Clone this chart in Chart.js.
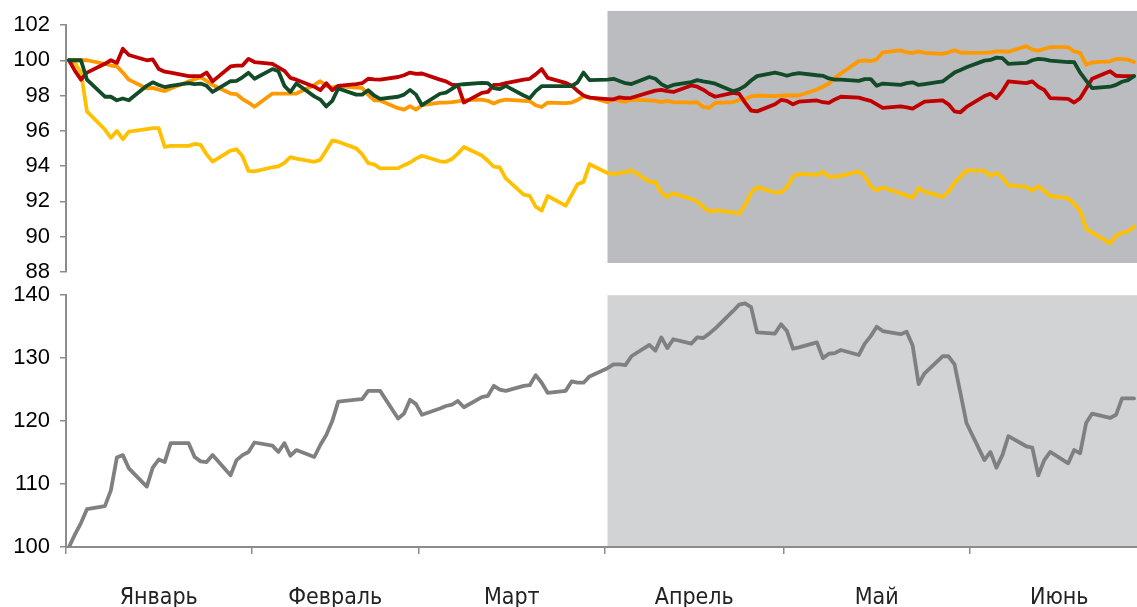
<!DOCTYPE html>
<html lang="ru">
<head>
<meta charset="utf-8">
<script src="https://cdn.jsdelivr.net/npm/chart.js@4.4.1/dist/chart.umd.min.js"></script>
<style>
  html, body { margin: 0; padding: 0; background: #fff; overflow: hidden; }
  #top { position: absolute; left: 0; top: 0; width: 1137px; height: 295px; }
  #bottom { position: absolute; left: 0; top: 272px; width: 1137px; height: 335px; }
</style>
</head>
<body>
<div id="top"><canvas id="topChart"></canvas></div>
<div id="bottom"><canvas id="bottomChart"></canvas></div>
<script>
// months on the x axis
const months = ['Январь', 'Февраль', 'Март', 'Апрель', 'Май', 'Июнь'];
const monthLengths = [31, 28, 31, 30, 31, 30];
const xMax = 179;          // axis ends on 29 June
const shadeFrom = '04-01'; // shaded period starts in April

// trading dates (first one is the 100 base)
const dates = [
  '01-01','01-02','01-03','01-04','01-07','01-08','01-09','01-10','01-11','01-14','01-15','01-16','01-17','01-18','01-21','01-22','01-23','01-24','01-25','01-28','01-29','01-30','01-31',
  '02-01','02-04','02-05','02-06','02-07','02-08','02-11','02-12','02-13','02-14','02-15','02-18','02-19','02-20','02-21','02-22','02-25','02-26','02-27','02-28',
  '03-01','03-04','03-05','03-06','03-07','03-08','03-11','03-12','03-13','03-14','03-15','03-18','03-19','03-20','03-21','03-22','03-25','03-26','03-27','03-28','03-29',
  '04-01','04-02','04-03','04-04','04-05','04-08','04-09','04-10','04-11','04-12','04-15','04-16','04-17','04-18','04-19','04-22','04-23','04-24','04-25','04-26','04-29','04-30',
  '05-01','05-02','05-03','05-06','05-07','05-08','05-09','05-10','05-13','05-14','05-15','05-16','05-17','05-20','05-21','05-22','05-23','05-24','05-27','05-28','05-29','05-30','05-31',
  '06-03','06-04','06-05','06-06','06-07','06-10','06-11','06-12','06-13','06-14','06-17','06-18','06-19','06-20','06-21','06-24','06-25','06-26','06-27','06-28'
];

// upper panel
const redSeries = [
  100, 99.4, 98.9, 99.3, 99.8, 100.0, 99.85, 100.65, 100.3, 100.0, 100.05, 99.5, 99.35, 99.3, 99.1, 99.1, 99.1, 99.3, 98.8, 99.65, 99.7, 99.7, 100.08,
  99.9, 99.8, 99.6, 99.4, 99.0, 98.9, 98.5, 98.3, 98.7, 98.3, 98.55, 98.65, 98.7, 98.95, 98.92, 98.9, 99.05, 99.15, 99.3, 99.23,
  99.25, 98.9, 98.8, 98.62, 98.57, 97.6, 98.15, 98.2, 98.6, 98.62, 98.7, 98.9, 98.95, 99.2, 99.5, 99.0, 98.72, 98.56, 98.26, 98.0, 97.88,
  97.8, 97.78, 97.9, 97.85, 97.87, 98.18, 98.28, 98.32, 98.25, 98.2, 98.57, 98.5, 98.33, 98.1, 97.93, 98.15, 98.1, 97.6, 97.15, 97.1, 97.5, 97.75,
  97.7, 97.5, 97.65, 97.72, 97.62, 97.58, 97.78, 97.93, 97.88, 97.78, 97.7, 97.5, 97.3, 97.39, 97.33, 97.26, 97.45, 97.65, 97.72, 97.5, 97.1, 97.05, 97.35,
  97.97, 98.1, 97.85, 98.25, 98.8, 98.7, 98.8, 98.5, 98.32, 97.85, 97.81, 97.6, 97.85, 98.4, 98.95, 99.38, 99.12, 99.1, 99.1, 99.1
];
const greenSeries = [
  100, 100, 100, 98.9, 97.93, 97.93, 97.73, 97.83, 97.73, 98.55, 98.75, 98.6, 98.48, 98.55, 98.7, 98.64, 98.68, 98.55, 98.2, 98.81, 98.83, 99.03, 99.29,
  98.95, 99.5, 99.38, 98.55, 98.2, 98.68, 97.95, 97.77, 97.38, 97.7, 98.4, 98.05, 98.05, 98.3, 98.0, 97.81, 97.93, 98.05, 98.32, 98.05,
  97.45, 98.1, 98.16, 98.38, 98.6, 98.64, 98.72, 98.7, 98.42, 98.36, 98.55, 98.0, 97.85, 98.25, 98.53, 98.53, 98.53, 98.53, 98.75, 99.3, 98.87,
  98.9, 98.95, 98.82, 98.7, 98.65, 99.05, 98.95, 98.65, 98.47, 98.6, 98.76, 98.87, 98.8, 98.75, 98.67, 98.24, 98.35, 98.55, 98.85, 99.1, 99.3, 99.22,
  99.12, 99.22, 99.27, 99.15, 99.12, 98.97, 98.9, 98.9, 98.83, 98.93, 98.93, 98.55, 98.68, 98.6, 98.7, 98.75, 98.6, 98.65, 98.8, 99.05, 99.3, 99.45, 99.6,
  99.98, 100.02, 100.15, 100.12, 99.8, 99.85, 100.0, 100.08, 100.05, 99.98, 99.9, 99.89, 99.3, 98.85, 98.42, 98.5, 98.6, 98.78, 98.87, 99.1
];
const orangeSeries = [
  100, 100, 100, 100, 99.8, 99.7, 99.65, 99.3, 98.9, 98.4, 98.43, 98.33, 98.25, 98.4, 98.8, 98.92, 99.04, 98.83, 98.6, 98.11, 98.08, 97.8, 97.6,
  97.36, 98.11, 98.11, 98.11, 98.11, 98.11, 98.6, 98.81, 98.55, 98.45, 98.53, 98.45, 98.43, 98.05, 97.73, 97.72, 97.28, 97.2, 97.4, 97.2,
  97.45, 97.6, 97.6, 97.62, 97.67, 97.74, 97.77, 97.7, 97.55, 97.7, 97.77, 97.7, 97.68, 97.45, 97.35, 97.6, 97.57, 97.6, 97.75, 97.95, 97.9,
  97.62, 97.8, 97.7, 97.65, 97.77, 97.73, 97.7, 97.63, 97.7, 97.62, 97.6, 97.62, 97.35, 97.3, 97.58, 97.63, 97.75, 97.8, 97.95, 98.0, 97.96, 98.0,
  98.0, 98.0, 98.0, 98.34, 98.5, 98.68, 99.0, 99.25, 99.95, 100.0, 99.95, 100.05, 100.45, 100.56, 100.45, 100.42, 100.5, 100.42, 100.36, 100.45, 100.57, 100.44, 100.42,
  100.42, 100.45, 100.5, 100.5, 100.48, 100.8, 100.6, 100.55, 100.65, 100.74, 100.74, 100.5, 100.42, 99.75, 99.88, 99.94, 100.07, 100.06, 100.04, 99.9
];
const yellowSeries = [
  100, 99.85, 99.3, 97.1, 96.07, 95.6, 95.99, 95.52, 95.95, 96.1, 96.15, 96.15, 95.08, 95.14, 95.14, 95.25, 95.2, 94.66, 94.25, 94.88, 94.95, 94.55, 93.72,
  93.7, 93.93, 93.98, 94.18, 94.5, 94.42, 94.24, 94.35, 94.9, 95.45, 95.38, 95.0, 94.66, 94.17, 94.09, 93.87, 93.88, 94.05, 94.2, 94.42,
  94.58, 94.27, 94.24, 94.4, 94.7, 95.08, 94.6, 94.3, 93.96, 93.92, 93.3, 92.38, 92.31, 91.7, 91.47, 92.3, 91.75, 92.35, 92.97, 93.1, 94.1,
  93.6, 93.55, 93.6, 93.65, 93.75, 93.13, 93.08, 92.5, 92.25, 92.45, 92.13, 92.0, 91.67, 91.43, 91.48, 91.37, 91.3, 91.8, 92.48, 92.8, 92.5, 92.5,
  92.8, 93.4, 93.55, 93.5, 93.68, 93.4, 93.4, 93.44, 93.7, 93.4, 92.85, 92.62, 92.78, 92.45, 92.32, 92.2, 92.75, 92.55, 92.25, 92.55, 93.05, 93.4, 93.75,
  93.73, 93.45, 93.6, 93.35, 92.9, 92.82, 92.6, 92.85, 92.6, 92.3, 92.18, 91.85, 91.45, 90.45, 90.22, 89.62, 90.05, 90.2, 90.3, 90.55
];

// lower panel
const greySeries = [
  100, 102.0, 103.8, 106.0, 106.5, 109.0, 114.2, 114.6, 112.5, 109.6, 112.6, 113.9, 113.5, 116.5, 116.5, 114.3, 113.6, 113.5, 114.6, 111.4, 113.8, 114.6, 115.1,
  116.6, 116.1, 115.1, 116.5, 114.5, 115.4, 114.3, 116.2, 117.8, 120.0, 123.1, 123.4, 123.5, 124.8, 124.8, 124.8, 120.4, 121.2, 123.4, 122.7,
  121.0, 122.0, 122.4, 122.6, 123.2, 122.2, 123.8, 124.0, 125.6, 125.0, 124.8, 125.6, 125.7, 127.3, 126.1, 124.5, 124.8, 126.3, 126.1, 126.1, 127.1,
  128.4, 129.0, 129.0, 128.9, 130.3, 132.1, 131.2, 133.3, 131.6, 133.0, 132.3, 133.3, 133.2, 133.9, 134.7, 137.5, 138.5, 138.7, 138.1, 134.1, 133.9, 135.4,
  134.3, 131.5, 131.7, 132.5, 130.0, 130.7, 130.8, 131.3, 130.5, 132.3, 133.5, 135.0, 134.3, 133.8, 134.2, 132.0, 125.9, 127.6, 130.3, 130.3, 129.0, 124.4, 119.7,
  113.8, 115.1, 112.6, 114.6, 117.6, 116.0, 115.8, 111.4, 113.8, 115.1, 113.3, 115.4, 114.9, 119.7, 121.2, 120.5, 121.0, 123.6, 123.6, 123.6
];

// x position in days from 1 January (points sit mid-day)
function dayPos(d) {
  const [m, day] = d.split('-').map(Number);
  let n = day - 1;
  for (let i = 0; i < m - 1; i++) n += monthLengths[i];
  return n + 0.5;
}

const monthStarts = [];
const monthMids = [];
let acc = 0;
monthLengths.forEach((len) => {
  monthStarts.push(acc);
  monthMids.push(acc + len / 2);
  acc += len;
});

const toPoints = (values) => dates.map((d, i) => ({ x: dayPos(d), y: values[i] }));

const shadePlugin = {
  id: 'shade',
  beforeDraw(chart, args, opts) {
    const { ctx, scales: { x, y } } = chart;
    const left = x.getPixelForValue(dayPos(shadeFrom));
    const right = x.getPixelForValue(xMax);
    const top = y.getPixelForValue(opts.from);
    const bottom = y.getPixelForValue(opts.to);
    ctx.save();
    ctx.fillStyle = opts.color;
    ctx.fillRect(left, top, right - left, bottom - top);
    ctx.restore();
  }
};

const axisGrey = '#8c8c8c';

function yAxis(min, max, step) {
  return {
    min: min,
    max: max,
    afterFit(s) { s.width = 66; },
    ticks: {
      stepSize: step,
      color: '#000',
      padding: 10,
      font: { family: "'Liberation Sans', Arial, sans-serif", size: 22 }
    },
    grid: { drawOnChartArea: false, color: axisGrey, lineWidth: 1.5, tickLength: 6 },
    border: { color: axisGrey, width: 2 }
  };
}

function line(values, color) {
  return {
    data: toPoints(values),
    borderColor: color,
    borderWidth: 3.8,
    pointRadius: 0,
    tension: 0,
    borderJoinStyle: 'round',
    borderCapStyle: 'round'
  };
}

const baseOptions = {
  animation: false,
  responsive: true,
  maintainAspectRatio: false,
  events: []
};

new Chart(document.getElementById('topChart'), {
  type: 'line',
  data: {
    datasets: [
      line(greenSeries, '#114b27'),
      line(redSeries, '#c00000'),
      line(orangeSeries, '#ff9900'),
      line(yellowSeries, '#ffc000')
    ]
  },
  options: {
    ...baseOptions,
    layout: { padding: { top: 25, bottom: 0, left: 0, right: 0 } },
    scales: {
      x: { type: 'linear', min: 0, max: xMax, display: false },
      y: yAxis(88, 102, 2)
    },
    plugins: {
      legend: { display: false },
      tooltip: { enabled: false },
      shade: { from: 102.8, to: 88.5, color: '#bbbcc0' }
    }
  },
  plugins: [shadePlugin]
});

new Chart(document.getElementById('bottomChart'), {
  type: 'line',
  data: {
    datasets: [line(greySeries, '#808080')]
  },
  options: {
    ...baseOptions,
    layout: { padding: { top: 0, bottom: 0, left: 0, right: 0 } },
    scales: {
      x: {
        type: 'linear',
        min: 0,
        max: xMax,
        afterBuildTicks(s) {
          s.ticks = monthStarts.concat(monthMids).sort((a, b) => a - b).map((v) => ({ value: v }));
        },
        afterFit(s) { s.height = 60; },
        ticks: {
          autoSkip: false,
          maxRotation: 0,
          padding: 30,
          color: '#222',
          font: { family: "'DejaVu Sans Condensed', 'Liberation Sans Narrow', sans-serif", size: 23 },
          callback: (v) => {
            const i = monthMids.indexOf(v);
            return i >= 0 ? months[i] : '';
          }
        },
        grid: {
          drawOnChartArea: false,
          tickLength: 7,
          lineWidth: 1.5,
          tickColor: (c) => (c.tick && monthStarts.includes(c.tick.value)) ? axisGrey : 'rgba(0,0,0,0)'
        },
        border: { color: axisGrey, width: 2 }
      },
      y: yAxis(100, 140, 10)
    },
    plugins: {
      legend: { display: false },
      tooltip: { enabled: false },
      shade: { from: 140, to: 100, color: '#d2d3d5' }
    }
  },
  plugins: [shadePlugin]
});
</script>
</body>
</html>
